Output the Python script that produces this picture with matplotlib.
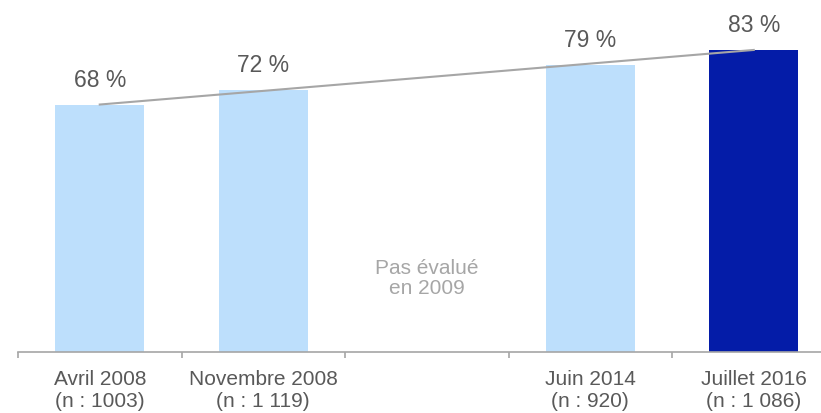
import matplotlib.pyplot as plt

plt.rcParams["font.family"] = ["Liberation Sans", "DejaVu Sans"]

# données
periodes = ["Avril 2008\n(n : 1003)", "Novembre 2008\n(n : 1 119)", "",
            "Juin 2014\n(n : 920)", "Juillet 2016\n(n : 1 086)"]
valeurs = [68, 72, None, 79, 83]
couleurs = ["#BDDFFC", "#BDDFFC", "#BDDFFC", "#BDDFFC", "#041CA8"]
note_vide = "Pas évalué\nen 2009"

W, H = 821, 414
fig = plt.figure(figsize=(W / 100, H / 100), dpi=100)
# axe : bord gauche à 18 px, 163.5 px par catégorie, ligne de base à 353 px
ax = fig.add_axes([18 / W, (H - 353) / H, 5 * 163.5 / W, 353 / H])

x = list(range(len(periodes)))
for i, v in enumerate(valeurs):
    if v is None:
        continue
    ax.bar(i, v, width=0.545, color=couleurs[i], zorder=2)
    ax.annotate(f"{v} %", (i, v), xytext=(0, 10), textcoords="offset points",
                ha="center", va="bottom", fontsize=16.5, color="#595959")

# ligne de tendance entre la première et la dernière mesure
pts = [(i, v) for i, v in enumerate(valeurs) if v is not None]
ax.plot([pts[0][0], pts[-1][0]], [pts[0][1], pts[-1][1]],
        color="#A6A6A6", linewidth=1.5, zorder=3)

ax.text(2, 20.5, note_vide, ha="center", va="center", fontsize=15,
        color="#A6A6A6", linespacing=1.1)

ax.set_xlim(-0.5, 4.5)
ax.set_ylim(0, 97)
ax.set_xticks(x)
ax.set_xticklabels(periodes, fontsize=15, color="#595959", linespacing=1.2)
ax.set_xticks([i - 0.5 for i in range(6)], minor=True)
ax.tick_params(axis="x", which="major", length=0, pad=12.5)
ax.tick_params(axis="x", which="minor", length=4.5, width=1.2, color="#A6A6A6")
ax.set_yticks([])
for s in ["top", "right", "left"]:
    ax.spines[s].set_visible(False)
ax.spines["bottom"].set_color("#A6A6A6")
ax.spines["bottom"].set_linewidth(1.2)

fig.savefig("out.png", dpi=100)
